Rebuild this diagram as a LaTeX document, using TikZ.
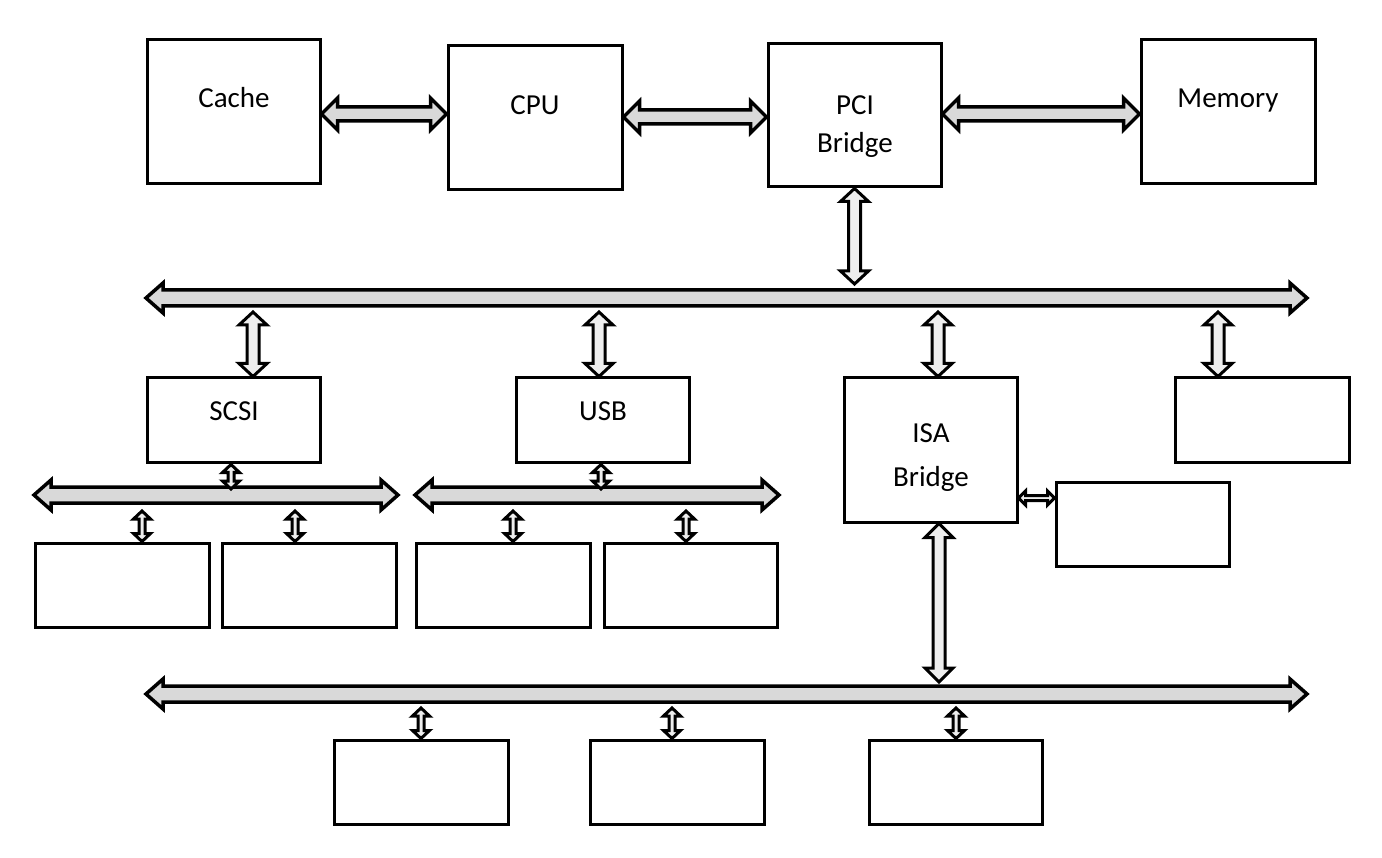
\documentclass[tikz,border=0pt]{standalone}
\usepackage{fontspec}
\setmainfont{Carlito}
\usetikzlibrary{calc}
\definecolor{busfill}{HTML}{D9D9D9}
\definecolor{arrfill}{HTML}{EEEEEE}
\tikzset{
  box/.style={draw, line width=3pt, rectangle, inner sep=0pt},
  lbl/.style={font=\fontsize{29}{33}\selectfont, anchor=base, inner sep=0pt},
  busarrow/.style={draw, line width=3.5pt, fill=busfill, line join=miter},
  linkarrow/.style={draw, line width=3pt, fill=arrfill, line join=miter},
  tinyarrow/.style={draw, line width=3pt, fill=arrfill, line join=miter},
}
% vertical block double arrow: #1 top point, #2 bottom point, #3 shaft half width, #4 head half width, #5 head length, #6 style
\newcommand\vblock[6]{%
  \path[#6] let \p1=#1, \p2=#2 in (\x1,\y1) -- (\x1+#4,\y1-#5) -- (\x1+#3,\y1-#5) -- (\x1+#3,\y2+#5) -- (\x1+#4,\y2+#5) -- (\x1,\y2) -- (\x1-#4,\y2+#5) -- (\x1-#3,\y2+#5) -- (\x1-#3,\y1-#5) -- (\x1-#4,\y1-#5) -- cycle;}
% horizontal block double arrow: #1 left point, #2 right point
\newcommand\hblock[6]{%
  \path[#6] let \p1=#1, \p2=#2 in (\x1,\y1) -- (\x1+#5,\y1+#4) -- (\x1+#5,\y1+#3) -- (\x2-#5,\y1+#3) -- (\x2-#5,\y1+#4) -- (\x2,\y1) -- (\x2-#5,\y1-#4) -- (\x2-#5,\y1-#3) -- (\x1+#5,\y1-#3) -- (\x1+#5,\y1-#4) -- cycle;}
\begin{document}
\begin{tikzpicture}[x=1pt,y=-1pt]
\useasboundingbox[fill=white] (0,0) rectangle (1382,858);
% top row
\node[box, minimum width=173, minimum height=144] (cache) at (233.5,112) {};
\node[box, minimum width=174, minimum height=144] (cpu) at (535,118) {};
\node[box, minimum width=173, minimum height=143] (pci) at (854.5,115.5) {};
\node[box, minimum width=174, minimum height=144] (mem) at (1228,112) {};
\node[lbl] (tcache) at (234,107.5) {Cache};
\node[lbl] (tcpu) at (535,114.5) {CPU};
\node[lbl] (tpci1) at (855,114.5) {PCI};
\node[lbl] (tpci2) at (855,152.5) {Bridge};
\node[lbl] (tmem) at (1228,107.5) {Memory};
% middle row
\node[box, minimum width=173, minimum height=85] (scsi) at (233.5,420.5) {};
\node[box, minimum width=173, minimum height=85] (usb) at (602.5,420.5) {};
\node[box, minimum width=173, minimum height=144] (isa) at (930.5,450) {};
\node[box, minimum width=174, minimum height=85] (dev1) at (1262,420.5) {};
\node[box, minimum width=173, minimum height=84] (dev2) at (1142.5,524) {};
\node[lbl] (tscsi) at (234,420.5) {SCSI};
\node[lbl] (tusb) at (603,420.5) {USB};
\node[lbl] (tisa1) at (931,442.5) {ISA};
\node[lbl] (tisa2) at (931,486.5) {Bridge};
% SCSI / USB devices
\node[box, minimum width=174, minimum height=84] (s1) at (122,585) {};
\node[box, minimum width=174, minimum height=84] (s2) at (309,585) {};
\node[box, minimum width=174, minimum height=84] (u1) at (503,585) {};
\node[box, minimum width=173, minimum height=84] (u2) at (690.5,585) {};
% ISA devices
\node[box, minimum width=174, minimum height=84] (i1) at (421,782) {};
\node[box, minimum width=174, minimum height=84] (i2) at (677,782) {};
\node[box, minimum width=173, minimum height=84] (i3) at (955.5,782) {};
% bus end points
\coordinate (pciL) at (146,298);
\coordinate (pciR) at (1307,298);
\coordinate (scsiL) at (34,495);
\coordinate (scsiR) at (398,495);
\coordinate (usbL) at (415,495);
\coordinate (usbR) at (779,495);
\coordinate (isabL) at (146,694);
\coordinate (isabR) at (1307,694);
% top arrows
\hblock{(cache.east |- 0,114)}{(cpu.west |- 0,114)}{7pt}{16pt}{16pt}{busarrow}
\hblock{(cpu.east |- 0,117)}{(pci.west |- 0,117)}{7pt}{16pt}{16pt}{busarrow}
\hblock{(pci.east |- 0,114)}{(mem.west |- 0,114)}{7pt}{16pt}{16pt}{busarrow}
% buses
\hblock{(pciL)}{(pciR)}{8pt}{15pt}{17pt}{busarrow}
\hblock{(scsiL)}{(scsiR)}{8pt}{15pt}{17pt}{busarrow}
\hblock{(usbL)}{(usbR)}{8pt}{15pt}{17pt}{busarrow}
\hblock{(isabL)}{(isabR)}{8pt}{15pt}{17pt}{busarrow}
% PCI bridge to PCI bus
\vblock{(pci.south)}{($(pci.south |- pciL)+(0,-14)$)}{6pt}{14pt}{13pt}{linkarrow}
% PCI bus to devices
\vblock{($(253,0 |- pciL)+(0,14)$)}{(253,0 |- scsi.north)}{6pt}{14pt}{13pt}{linkarrow}
\vblock{($(599,0 |- pciL)+(0,14)$)}{(599,0 |- usb.north)}{6pt}{14pt}{13pt}{linkarrow}
\vblock{($(938,0 |- pciL)+(0,14)$)}{(938,0 |- isa.north)}{6pt}{14pt}{13pt}{linkarrow}
\vblock{($(1218,0 |- pciL)+(0,14)$)}{(1218,0 |- dev1.north)}{6pt}{14pt}{13pt}{linkarrow}
% ISA bridge to ISA bus
\vblock{(939,0 |- isa.south)}{($(939,0 |- isabL)+(0,-12)$)}{6pt}{14pt}{14pt}{linkarrow}
% ISA bridge to side device
\hblock{(isa.east |- 0,498)}{(dev2.west |- 0,498)}{2.5pt}{7pt}{7pt}{tinyarrow}
% controllers to sub buses
\vblock{(231,0 |- scsi.south)}{($(231,0 |- scsiL)+(0,-6)$)}{3pt}{8.5pt}{8pt}{tinyarrow}
\vblock{(601,0 |- usb.south)}{($(601,0 |- usbL)+(0,-6)$)}{3pt}{8.5pt}{8pt}{tinyarrow}
% sub buses to devices
\vblock{($(142,0 |- scsiL)+(0,16)$)}{(142,0 |- s1.north)}{3pt}{8.5pt}{8pt}{tinyarrow}
\vblock{($(295,0 |- scsiL)+(0,16)$)}{(295,0 |- s2.north)}{3pt}{8.5pt}{8pt}{tinyarrow}
\vblock{($(513,0 |- usbL)+(0,16)$)}{(513,0 |- u1.north)}{3pt}{8.5pt}{8pt}{tinyarrow}
\vblock{($(686,0 |- usbL)+(0,16)$)}{(686,0 |- u2.north)}{3pt}{8.5pt}{8pt}{tinyarrow}
% ISA bus to devices
\vblock{($(421,0 |- isabL)+(0,14)$)}{(421,0 |- i1.north)}{3pt}{8.5pt}{8pt}{tinyarrow}
\vblock{($(672,0 |- isabL)+(0,14)$)}{(672,0 |- i2.north)}{3pt}{8.5pt}{8pt}{tinyarrow}
\vblock{($(956,0 |- isabL)+(0,14)$)}{(956,0 |- i3.north)}{3pt}{8.5pt}{8pt}{tinyarrow}
\end{tikzpicture}
\end{document}
